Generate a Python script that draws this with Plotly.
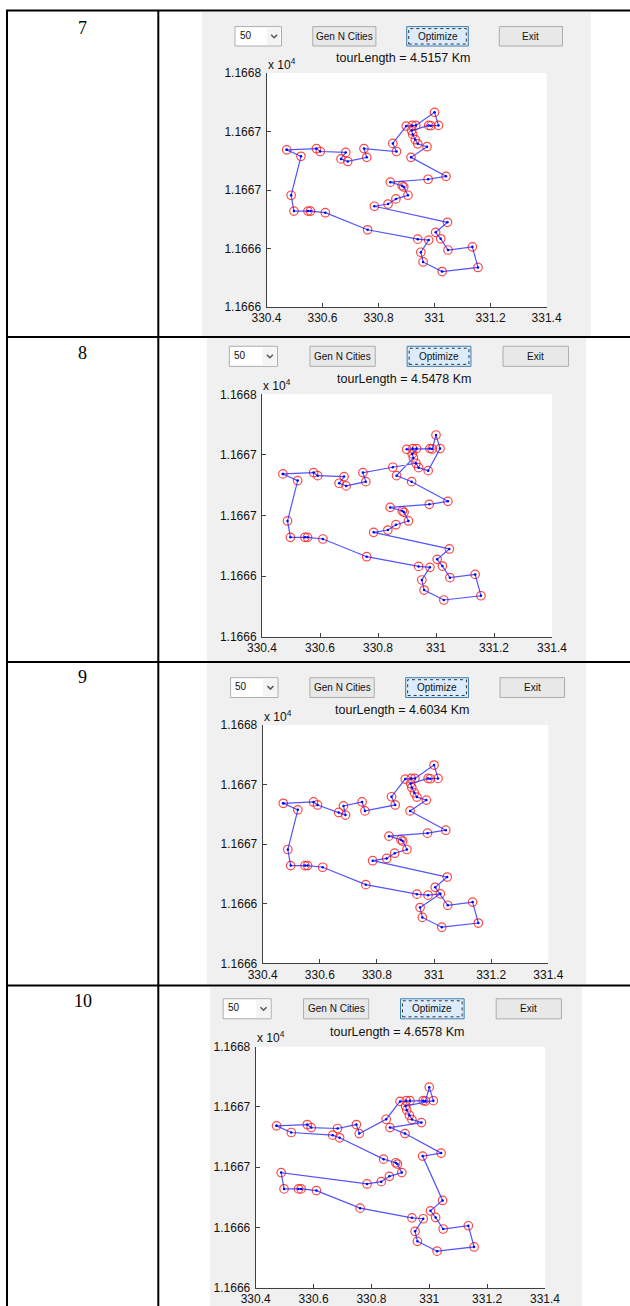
import plotly.graph_objects as go

W, H = 630, 1306

# ---------------- data ----------------
row_labels = ["7", "8", "9", "10"]
tour_lengths = ["4.5157", "4.5478", "4.6034", "4.6578"]
n_cities_label = "50"
button_labels = ["Gen N Cities", "Optimize", "Exit"]

city_x = [330.472, 330.523, 330.488, 330.498, 330.548, 330.557, 330.610, 330.761, 330.940, 330.979,
          330.951, 330.959, 331.027, 331.155, 331.135, 331.048, 331.022, 331.004, 331.046, 330.785,
          330.834, 330.862, 330.905, 330.890, 330.884, 330.842, 330.977, 331.041, 330.916, 330.864,
          330.851, 330.973, 330.940, 330.931, 330.922, 330.918, 330.899, 330.920, 330.933, 330.979,
          330.987, 331.014, 331.000, 330.748, 330.758, 330.683, 330.666, 330.690, 330.578, 330.592]
city_y = [11666.843, 11666.788, 11666.455, 11666.320, 11666.320, 11666.320, 11666.306, 11666.160, 11666.080, 11666.072,
          11665.968, 11665.885, 11665.803, 11665.838, 11666.014, 11665.987, 11666.083, 11666.138, 11666.224, 11666.361,
          11666.380, 11666.424, 11666.455, 11666.526, 11666.537, 11666.567, 11666.592, 11666.617, 11666.779, 11666.829,
          11666.898, 11666.870, 11666.895, 11666.931, 11666.975, 11667.008, 11667.046, 11667.052, 11667.052, 11667.052,
          11667.049, 11667.052, 11667.164, 11666.854, 11666.779, 11666.821, 11666.766, 11666.744, 11666.854, 11666.829]

tour_row7 = [1, 49, 50, 46, 47, 48, 45, 44, 30, 31, 37, 38, 39, 43, 42, 41, 40, 36, 35, 34,
             33, 32, 29, 28, 27, 26, 25, 24, 23, 22, 21, 20, 19, 18, 17, 16, 15, 14, 13, 12,
             11, 10, 9, 8, 7, 6, 5, 4, 3, 2]
tour_row8 = [1, 49, 50, 46, 47, 48, 45, 44, 31, 34, 33, 32, 42, 43, 41, 40, 37, 38, 39, 36,
             35, 30, 29, 28, 27, 26, 25, 24, 23, 22, 21, 20, 19, 18, 17, 16, 15, 14, 13, 12,
             11, 10, 9, 8, 7, 6, 5, 4, 3, 2]
tour_row9 = [1, 49, 50, 47, 48, 46, 44, 45, 30, 31, 37, 38, 39, 43, 42, 41, 40, 36, 35, 34,
             33, 32, 29, 28, 27, 26, 25, 24, 23, 22, 21, 20, 19, 18, 16, 15, 14, 13, 12, 11,
             17, 10, 9, 8, 7, 6, 5, 4, 3, 2]
tour_row10 = [1, 2, 47, 48, 26, 25, 24, 23, 22, 21, 20, 3, 4, 5, 6, 7, 8, 9, 10, 11,
              12, 13, 14, 15, 16, 17, 18, 19, 27, 28, 29, 30, 32, 33, 34, 35, 36, 42, 43, 41,
              40, 39, 38, 37, 31, 45, 44, 46, 50, 49]
tours = [tour_row7, tour_row8, tour_row9, tour_row10]

x_tickvals = [330.4, 330.6, 330.8, 331.0, 331.2, 331.4]
x_ticktext = ["330.4", "330.6", "330.8", "331", "331.2", "331.4"]
y_tickvals = [11665.5, 11666.0, 11666.5, 11667.0, 11667.5]
y_ticktext = ["1.1666", "1.1666", "1.1667", "1.1667", "1.1668"]

# ---------------- geometry (pixels) ----------------
rows = [
    dict(panel=(202, 12, 591, 336), plot=(266.5, 73, 546.6, 307), label_y=28),
    dict(panel=(207, 338, 586, 661), plot=(262, 394.3, 552, 636.7), label_y=353),
    dict(panel=(207, 663, 586, 984), plot=(262.7, 725, 548.3, 963.3), label_y=677),
    dict(panel=(210, 987, 582, 1306), plot=(255.7, 1046.7, 545, 1287.7), label_y=1001),
]
row_lines = [10.5, 337, 662, 985.5]
col_left, col_mid = 7, 158.3

widgets = dict(drop=(-31.5, 15), gen=(46.3, 109.4), opt=(140.2, 201.8), exit=(232.8, 296))
wid_y = (-46.4, -27)


def px(x):
    return x / W


def py(y):
    return 1 - y / H


def rect(x0, y0, x1, y1, fill, line=None, lw=1, dash=None, layer="below"):
    d = dict(type="rect", xref="paper", yref="paper",
             x0=px(x0), x1=px(x1), y0=py(y1), y1=py(y0),
             fillcolor=fill, layer=layer,
             line=dict(width=lw if line else 0, color=line or "rgba(0,0,0,0)"))
    if dash:
        d["line"]["dash"] = dash
    return d


fig = go.Figure()
shapes = []
annotations = []
ui_font = "Liberation Sans, Arial, sans-serif"

for i, r in enumerate(rows):
    suffix = "" if i == 0 else str(i + 1)
    xa, ya = "x" + suffix, "y" + suffix
    L, T, R, B = r["plot"]
    s = (R - L) / 280.1

    # gray figure panel
    shapes.append(rect(*r["panel"], fill="#f0f0f0"))
    # white axes area
    shapes.append(dict(type="rect", xref=xa + " domain", yref=ya + " domain",
                       x0=0, x1=1, y0=0, y1=1, fillcolor="white", layer="below",
                       line=dict(width=0)))

    by0, by1 = T + wid_y[0] * s, T + wid_y[1] * s
    ymid = (by0 + by1) / 2
    # dropdown
    dx0, dx1 = L + widgets["drop"][0] * s, L + widgets["drop"][1] * s
    shapes.append(rect(dx0, by0, dx1, by1, fill="white", line="#abadb3"))
    shapes.append(rect(L + 0.5 * s, by0 + 1, dx1 - 1, by1 - 1, fill="#f4f4f4"))
    cx = L + 7.6 * s
    shapes.append(dict(type="path", xref="paper", yref="paper", layer="above",
                       path=f"M {px(cx-3)} {py(ymid-1.5)} L {px(cx)} {py(ymid+1.5)} L {px(cx+3)} {py(ymid-1.5)}",
                       line=dict(color="#555555", width=1.5)))
    annotations.append(dict(xref="paper", yref="paper", x=px(dx0 + 2.5), y=py(ymid - 1),
                            text=n_cities_label, showarrow=False, xanchor="left", yanchor="middle",
                            font=dict(family=ui_font, size=10, color="#111")))
    # buttons
    for key, lab in zip(["gen", "opt", "exit"], button_labels):
        x0, x1 = L + widgets[key][0] * s, L + widgets[key][1] * s
        if key == "opt":
            shapes.append(rect(x0, by0, x1, by1, fill="#dcecfc", line="#3c7fb1"))
            shapes.append(rect(x0 + 2, by0 + 2, x1 - 2, by1 - 2, fill="rgba(0,0,0,0)",
                               line="#333333", dash="dot"))
        else:
            shapes.append(rect(x0, by0, x1, by1, fill="#e8e8e8", line="#adadad"))
        annotations.append(dict(xref="paper", yref="paper", x=px((x0 + x1) / 2), y=py(ymid),
                                text=lab, showarrow=False, xanchor="center", yanchor="middle",
                                font=dict(family=ui_font, size=10, color="#111")))
    # title
    annotations.append(dict(xref="paper", yref="paper", x=px(L + 137 * s), y=py(T - 14.5 * s),
                            text=f"tourLength = {tour_lengths[i]} Km", showarrow=False,
                            xanchor="center", yanchor="middle",
                            font=dict(family=ui_font, size=12.5, color="#111")))
    # exponent label
    annotations.append(dict(xref="paper", yref="paper", x=px(L - 1), y=py(T - 9 * s),
                            text="x 10<sup>4</sup>", showarrow=False,
                            xanchor="left", yanchor="middle",
                            font=dict(family=ui_font, size=12, color="#111")))
    # row number
    annotations.append(dict(xref="paper", yref="paper", x=px((col_left + col_mid) / 2), y=py(r["label_y"]),
                            text=row_labels[i], showarrow=False, xanchor="center", yanchor="middle",
                            font=dict(family="Liberation Serif, Times New Roman, serif", size=18, color="#000")))

    # traces
    tx = [city_x[k - 1] for k in tours[i]] + [city_x[tours[i][0] - 1]]
    ty = [city_y[k - 1] for k in tours[i]] + [city_y[tours[i][0] - 1]]
    fig.add_trace(go.Scatter(x=city_x, y=city_y, mode="markers", xaxis=xa, yaxis=ya,
                             marker=dict(symbol="circle-open", size=8.5, color="rgba(250,40,40,0.85)",
                                         line=dict(width=1.2)),
                             hoverinfo="skip", showlegend=False))
    fig.add_trace(go.Scatter(x=tx, y=ty, mode="lines+markers", xaxis=xa, yaxis=ya,
                             line=dict(color="rgba(40,40,255,0.8)", width=1.2),
                             marker=dict(size=2.5, color="#0000ff"),
                             hoverinfo="skip", showlegend=False))

    axis_common = dict(showgrid=False, zeroline=False, showline=True, linecolor="#404040",
                       linewidth=1, ticks="inside", ticklen=4, tickcolor="#404040",
                       tickfont=dict(family=ui_font, size=12, color="#111"),
                       automargin=False, fixedrange=True)
    fig.layout["xaxis" + suffix] = dict(domain=[px(L), px(R)], range=[330.4, 331.4],
                                         tickmode="array", tickvals=x_tickvals, ticktext=x_ticktext,
                                         anchor=ya, **axis_common)
    fig.layout["yaxis" + suffix] = dict(domain=[py(B), py(T)], range=[11665.5, 11667.5],
                                         tickmode="array", tickvals=y_tickvals, ticktext=y_ticktext,
                                         anchor=xa, ticklabelstandoff=2, **axis_common)

# table borders
for yl in row_lines:
    shapes.append(dict(type="line", xref="paper", yref="paper", layer="above",
                       x0=px(col_left - 1), x1=1, y0=py(yl), y1=py(yl),
                       line=dict(color="black", width=2)))
for xl in [col_left, col_mid]:
    shapes.append(dict(type="line", xref="paper", yref="paper", layer="above",
                       x0=px(xl), x1=px(xl), y0=0, y1=py(row_lines[0]),
                       line=dict(color="black", width=2)))

fig.update_layout(width=W, height=H, margin=dict(l=0, r=0, t=0, b=0),
                  paper_bgcolor="white", plot_bgcolor="rgba(0,0,0,0)",
                  shapes=shapes, annotations=annotations, showlegend=False)

fig.write_html("out.html",
               config={"displayModeBar": False, "staticPlot": True},
               post_script="document.body.style.margin='0';document.body.style.padding='0';"
                           "document.documentElement.style.overflow='hidden';")
